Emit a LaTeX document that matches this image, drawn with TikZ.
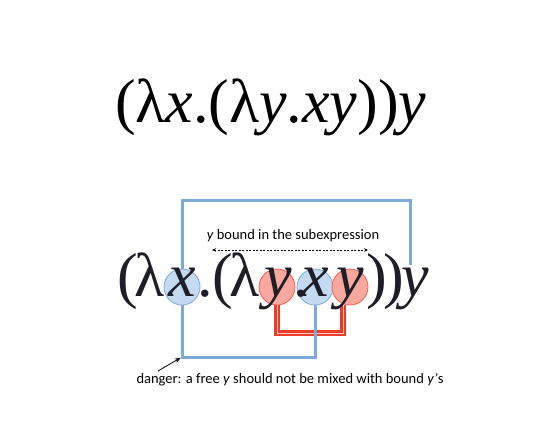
\documentclass[tikz,border=0pt]{standalone}
\usepackage{fontspec}
\setmainfont{Liberation Serif}
\newfontfamily\formfont{Liberation Serif}
\newfontfamily\labelfont{Carlito}
\usetikzlibrary{arrows.meta}
\definecolor{bline}{RGB}{125,168,218}
\definecolor{bfill}{RGB}{196,218,242}
\definecolor{rline}{RGB}{238,95,80}
\definecolor{rfill}{RGB}{250,168,158}
\definecolor{rdark}{RGB}{235,60,40}
\definecolor{ink}{RGB}{30,30,40}
\begin{document}
\begin{tikzpicture}[x=1pt,y=-1pt,
  glyph/.style={inner sep=0pt,outer sep=0pt,anchor=base west,text=ink,font=\formfont\fontsize{62}{62}\selectfont},
  bcirc/.style={circle,minimum size=36pt,inner sep=0pt,draw=bline,line width=0.8pt,fill=bfill},
  rcirc/.style={circle,minimum size=36pt,inner sep=0pt,draw=rline,line width=0.8pt,fill=rfill},
  bpath/.style={draw=bline,line width=3pt},
  rpath/.style={draw=rdark,line width=3pt,double=rfill!60,double distance=0.8pt},
  lbl/.style={inner sep=0pt,font=\labelfont\fontsize{14.5}{14.5}\selectfont},
  tip/.style={-{Stealth[length=6pt,width=4.5pt]}}]
\useasboundingbox (0,0) rectangle (545,421);

% top formula
\node[glyph,text=black] (top) at (115,122) {(λ\textit{x}.(λ\textit{y}.\textit{xy}))\textit{y}};

% connector corners
\coordinate (tr) at (410,200);
\coordinate (tEnd) at (410,265);
\coordinate (bl) at (182,357);
\coordinate (rl) at (277,333);

% circles (positions of the circled letters)
\node[bcirc] (cx1) at (182,287) {};
\node[rcirc] (cy1) at (277,287) {};
\node[bcirc] (cx2) at (315,287) {};
\node[rcirc] (cy2) at (350,287) {};

\draw[bpath] (cx1.north) |- (tr) -- (tEnd);
\draw[rpath] (cy1.south) -- (rl) -| ([xshift=-7pt]cy2.south);
\draw[bpath] (cx1.south) -- (bl) -| (cx2.south);

% bottom formula glyphs
\node[glyph] (bp1) at (117,296) {(};
\node[glyph] (bl1) at (134,296) {λ};
\node[glyph] (bx1) at (168,296) {\textit{x}};
\node[glyph] (bd1) at (197,296) {.};
\node[glyph] (bp2) at (212,296) {(};
\node[glyph] (bl2) at (229,296) {λ};
\node[glyph] (by1) at (264,296) {\textit{y}};
\node[glyph] (bd2) at (293,296) {.};
\node[glyph] (bx2) at (301,296) {\textit{x}};
\node[glyph] (by2) at (336,296) {\textit{y}};
\node[glyph] (bp3) at (366,296) {)};
\node[glyph] (bp4) at (383,296) {)};
\node[glyph] (by3) at (401,296) {\textit{y}};

% label with dashed arrow
\node[lbl] (sub) at (293,236) {\textit{y} bound in the subexpression};
\coordinate (dl) at (212,250);
\coordinate (dr) at (368,250);
\draw[dash pattern=on 2pt off 1.5pt,line width=0.6pt,{Stealth[length=4pt,width=3.5pt]}-{Stealth[length=4pt,width=3.5pt]}] (dl) -- (dr);

% danger note
\node[lbl] (danger) at (290,380) {danger: a free \textit{y} should not be mixed with bound \textit{y’}s};
\coordinate (da) at (158,371);
\draw[tip,line width=0.8pt,shorten >=1.5pt] (da) -- (bl);
\end{tikzpicture}
\end{document}
